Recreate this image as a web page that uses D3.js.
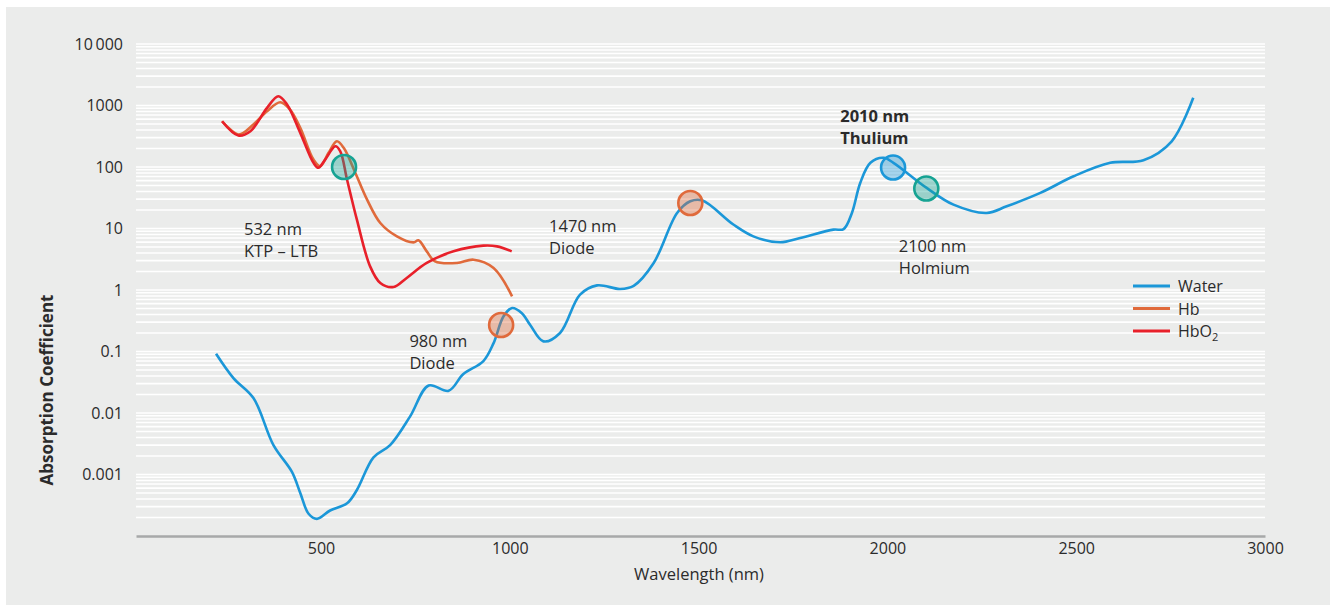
<!DOCTYPE html>
<html>
<head>
  <title>Absorption spectra</title>
  <script src="https://cdn.jsdelivr.net/npm/d3@7.0.0/dist/d3.min.js"></script>
  <style>
    body { margin: 0; background: #fff; }
    text { font-family: "Open Sans", "Noto Sans", sans-serif; fill: #2b2b2b; }
  </style>
</head>
<body>
  <div id="svgContainer"></div>

  <script>
    // wavelength (nm) / absorption coefficient
    var waterWl = [222, 268, 321, 374, 423, 445, 467, 489, 524, 569, 595, 639, 683, 736, 785, 838, 877, 930, 957, 983, 1006, 1032, 1054, 1089, 1133, 1186, 1231, 1292, 1328, 1381, 1443, 1478, 1509, 1592, 1645, 1716, 1769, 1857, 1884, 1906, 1928, 1955, 1990, 2016, 2104, 2175, 2263, 2316, 2405, 2493, 2590, 2678, 2753, 2810];
    var waterVal = [0.092, 0.037, 0.0175, 0.003, 0.0011, 0.0005, 0.00023, 0.00019, 0.00026, 0.00034, 0.00056, 0.0019, 0.003, 0.0088, 0.028, 0.023, 0.043, 0.07, 0.137, 0.37, 0.51, 0.42, 0.27, 0.146, 0.2, 0.84, 1.19, 1.04, 1.17, 2.75, 17.9, 27.7, 28.7, 11.6, 7.45, 5.96, 7.0, 9.6, 9.8, 17.9, 55, 117, 141, 117, 45.7, 24.4, 17.9, 23, 37.9, 70.6, 117, 129, 262, 1334];

    var hbWl = [238, 282, 321, 357, 392, 418, 445, 480, 498, 520, 542, 560, 591, 622, 657, 701, 745, 758, 780, 802, 860, 904, 957, 1006];
    var hbVal = [555, 337, 491, 807, 1132, 861, 433, 132, 103, 170, 262, 205, 80, 29.5, 12.3, 7.45, 5.95, 6.42, 4.25, 2.92, 2.75, 3.11, 2.28, 0.79];

    var hbo2Wl = [238, 281, 313, 357, 387, 410, 445, 480, 493, 511, 538, 551, 569, 595, 630, 657, 692, 727, 780, 851, 930, 966, 1005];
    var hbo2Val = [555, 325, 382, 916, 1416, 1038, 359, 117, 97, 132, 217, 180, 62, 13.9, 2.42, 1.3, 1.12, 1.57, 2.75, 4.25, 5.26, 5.12, 4.25];

    // laser markers
    var laserWl = [561, 977, 1478, 2015, 2103];
    var laserVal = [100, 0.27, 26, 98, 44.7];
    var laserKind = ["teal", "orange", "orange", "blue", "teal"];

    var laserNotes = [
      { lines: ["532 nm", "KTP \u2013 LTB"], wl: 296, val: 10, bold: false },
      { lines: ["980 nm", "Diode"], wl: 734, val: 0.149, bold: false },
      { lines: ["1470 nm", "Diode"], wl: 1104, val: 11.1, bold: false },
      { lines: ["2010 nm", "Thulium"], wl: 1875, val: 687, bold: true },
      { lines: ["2100 nm", "Holmium"], wl: 2030, val: 5.26, bold: false }
    ];

    var xTicks = [500, 1000, 1500, 2000, 2500, 3000];
    var yTicks = [0.001, 0.01, 0.1, 1, 10, 100, 1000, 10000];
    var yTickLabels = ["0.001", "0.01", "0.1", "1", "10", "100", "1000", "10\u2009000"];

    var colors = { Water: "#1b97d8", Hb: "#e06a3b", HbO2: "#e8202a", teal: "#16a393", orange: "#e06a3b", blue: "#1b97d8" };

    var W = 1335, H = 609;
    var svg = d3.select("#svgContainer").append("svg")
      .attr("width", W)
      .attr("height", H);

    svg.append("rect")
      .attr("x", 6).attr("y", 7)
      .attr("width", 1324).attr("height", 598)
      .attr("fill", "#ebeceb");

    var x = d3.scaleLinear().domain([10, 3000]).range([136, 1265]);
    var y = d3.scaleLog().domain([1e-4, 1e4]).range([536, 44]);

    // white gridlines on every minor log step
    var grid = [];
    for (var k = -4; k < 4; k++) {
      for (var n = 1; n < 10; n++) grid.push(n * Math.pow(10, k));
    }
    grid.push(1e4);
    grid = grid.filter(function(v) { return v > 1.5e-4; });

    svg.append("g").selectAll("line")
      .data(grid)
      .enter().append("line")
      .attr("x1", x(10)).attr("x2", x(3000))
      .attr("y1", function(d) { return y(d); })
      .attr("y2", function(d) { return y(d); })
      .attr("stroke", "#fff")
      .attr("stroke-width", 1.6);

    // x axis
    var xAxis = svg.append("g")
      .attr("transform", "translate(0," + y(1e-4) + ")")
      .call(d3.axisBottom(x).tickValues(xTicks).tickSize(0).tickSizeOuter(0).tickPadding(7)
        .tickFormat(d3.format("d")));
    xAxis.select(".domain").attr("stroke", "#a7a9a9").attr("stroke-width", 2.5);
    xAxis.selectAll("text").attr("font-size", 16).attr("fill", "#2b2b2b")
      .style("font-family", "'Open Sans', sans-serif");

    // y axis
    var yAxis = svg.append("g")
      .attr("transform", "translate(" + x(10) + ",0)")
      .call(d3.axisLeft(y).tickValues(yTicks).tickSize(0).tickPadding(13)
        .tickFormat(function(d, i) { return yTickLabels[i]; }));
    yAxis.select(".domain").remove();
    yAxis.selectAll("text").attr("font-size", 16).attr("fill", "#2b2b2b")
      .style("font-family", "'Open Sans', sans-serif");

    svg.append("text")
      .attr("x", 699).attr("y", 580)
      .attr("text-anchor", "middle")
      .attr("font-size", 16.5)
      .text("Wavelength (nm)");

    svg.append("text")
      .attr("transform", "translate(53,390) rotate(-90)")
      .attr("text-anchor", "middle")
      .attr("font-size", 17)
      .attr("font-weight", "bold")
      .text("Absorption Coefficient");

    // curves
    var series = [
      { name: "Hb", wl: hbWl, val: hbVal },
      { name: "HbO2", wl: hbo2Wl, val: hbo2Val },
      { name: "Water", wl: waterWl, val: waterVal }
    ];

    var line = d3.line()
      .x(function(d) { return x(d[0]); })
      .y(function(d) { return y(d[1]); })
      .curve(d3.curveCatmullRom.alpha(0.5));

    svg.append("g").selectAll("path")
      .data(series)
      .enter().append("path")
      .attr("d", function(s) { return line(d3.zip(s.wl, s.val)); })
      .attr("fill", "none")
      .attr("stroke", function(s) { return colors[s.name]; })
      .attr("stroke-width", 2.6)
      .attr("stroke-linejoin", "round");

    // laser circles
    svg.append("g").selectAll("circle")
      .data(d3.range(laserWl.length))
      .enter().append("circle")
      .attr("cx", function(i) { return x(laserWl[i]); })
      .attr("cy", function(i) { return y(laserVal[i]); })
      .attr("r", 12)
      .attr("fill", function(i) { return colors[laserKind[i]]; })
      .attr("fill-opacity", 0.38)
      .attr("stroke", function(i) { return colors[laserKind[i]]; })
      .attr("stroke-width", 2.6);

    // annotations
    laserNotes.forEach(function(n) {
      var t = svg.append("text")
        .attr("x", x(n.wl))
        .attr("y", y(n.val) + 6)
        .attr("font-size", 16.5)
        .attr("font-weight", n.bold ? "bold" : "normal");
      n.lines.forEach(function(l, i) {
        t.append("tspan").attr("x", x(n.wl)).attr("dy", i === 0 ? 0 : 22).text(l);
      });
    });

    // legend
    var legend = svg.append("g").attr("transform", "translate(1133,286)");
    ["Water", "Hb", "HbO2"].forEach(function(name, i) {
      var g = legend.append("g").attr("transform", "translate(0," + (i * 22.5) + ")");
      g.append("line").attr("x1", 0).attr("x2", 37)
        .attr("stroke", colors[name]).attr("stroke-width", 3);
      var t = g.append("text").attr("x", 45).attr("y", 6).attr("font-size", 16);
      if (name === "HbO2") {
        t.append("tspan").text("HbO");
        t.append("tspan").attr("font-size", 11).attr("dy", 4).text("2");
      } else {
        t.text(name);
      }
    });
  </script>
</body>
</html>
